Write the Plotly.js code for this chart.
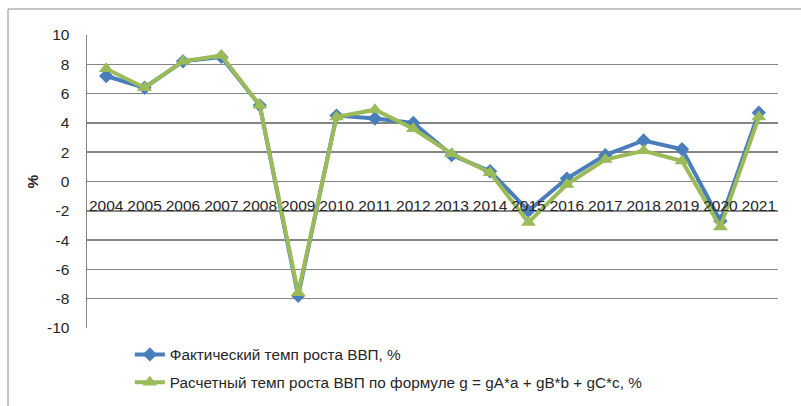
<!DOCTYPE html>
<html>
<head>
<meta charset="utf-8">
<script src="https://cdn.plot.ly/plotly-3.0.1.min.js"></script>
<style>
html,body{margin:0;padding:0;background:#fff;}
#chart{width:801px;height:406px;}
</style>
</head>
<body>
<div id="chart"></div>
<script>
const years = ["2004","2005","2006","2007","2008","2009","2010","2011","2012","2013","2014","2015","2016","2017","2018","2019","2020","2021"];
const actualGrowth = [7.2, 6.4, 8.2, 8.5, 5.2, -7.8, 4.5, 4.3, 4.0, 1.8, 0.7, -2.0, 0.2, 1.8, 2.8, 2.2, -2.7, 4.7];
const calcGrowth   = [7.7, 6.4, 8.2, 8.6, 5.2, -7.6, 4.4, 4.9, 3.6, 1.9, 0.6, -2.8, -0.2, 1.5, 2.1, 1.4, -3.1, 4.4];
const seriesNames = ["Фактический темп роста ВВП, %", "Расчетный темп роста ВВП по формуле g = gA*a + gB*b + gC*c, %"];
const yTicks = [-10, -8, -6, -4, -2, 0, 2, 4, 6, 8, 10];

const FONT = "Liberation Sans, Arial, sans-serif";
const GRID = "#858585";

const traces = [
  {
    x: years, y: actualGrowth, name: seriesNames[0], type: "scatter", mode: "lines+markers",
    line: {color: "#4a7ebb", width: 4},
    marker: {symbol: "diamond", size: 11, color: "#4a7ebb"},
    legendgroup: "a"
  },
  {
    x: years, y: calcGrowth, name: seriesNames[1], type: "scatter", mode: "lines+markers",
    line: {color: "#9bbb59", width: 4},
    marker: {symbol: "triangle-up", size: 13, color: "#9bbb59"},
    legendgroup: "b"
  }
];

const layout = {
  width: 801, height: 406,
  margin: {l: 87, r: 23, t: 35, b: 78, autoexpand: false},
  paper_bgcolor: "#ffffff", plot_bgcolor: "#ffffff",
  font: {family: FONT, size: 15.5, color: "#262626"},
  showlegend: true,
  legend: {
    x: 0.062, y: -0.034, xanchor: "left", yanchor: "top",
    orientation: "v", traceorder: "grouped", tracegroupgap: 5,
    font: {family: FONT, size: 15.3, color: "#262626"},
    bgcolor: "rgba(0,0,0,0)"
  },
  xaxis: {
    type: "category",
    range: [-0.5, years.length - 0.5], autorange: false,
    anchor: "free", position: 0.5,
    showgrid: false, showline: false, zeroline: false,
    ticks: "outside", ticklen: 10, tickcolor: "rgba(0,0,0,0)",
    tickangle: 0,
    tickfont: {family: FONT, size: 15.5, color: "#262626"},
    fixedrange: true
  },
  yaxis: {
    range: [-10, 10], tickvals: yTicks, ticktext: yTicks.map(String),
    showgrid: true, gridcolor: GRID, gridwidth: 1.5,
    zeroline: false,
    showline: true, linecolor: GRID, linewidth: 1.5,
    ticks: "outside", ticklen: 13, tickcolor: "rgba(0,0,0,0)",
    tickfont: {family: FONT, size: 15.5, color: "#262626"},
    title: {text: "<b>%</b>", font: {family: FONT, size: 15.5, color: "#262626"}, standoff: 4},
    fixedrange: true
  },
  shapes: [
    {type: "line", xref: "paper", yref: "paper", x0: (8-87)/691, x1: (801-87)/691, y0: (328-9)/293, y1: (328-9)/293, line: {color: "#8c8c8c", width: 1}},
    {type: "line", xref: "paper", yref: "paper", x0: (8-87)/691, x1: (8-87)/691, y0: (328-9)/293, y1: (328-406)/293, line: {color: "#8c8c8c", width: 1}}
  ]
};

Plotly.newPlot("chart", traces, layout, {displayModeBar: false, staticPlot: true});
</script>
</body>
</html>
